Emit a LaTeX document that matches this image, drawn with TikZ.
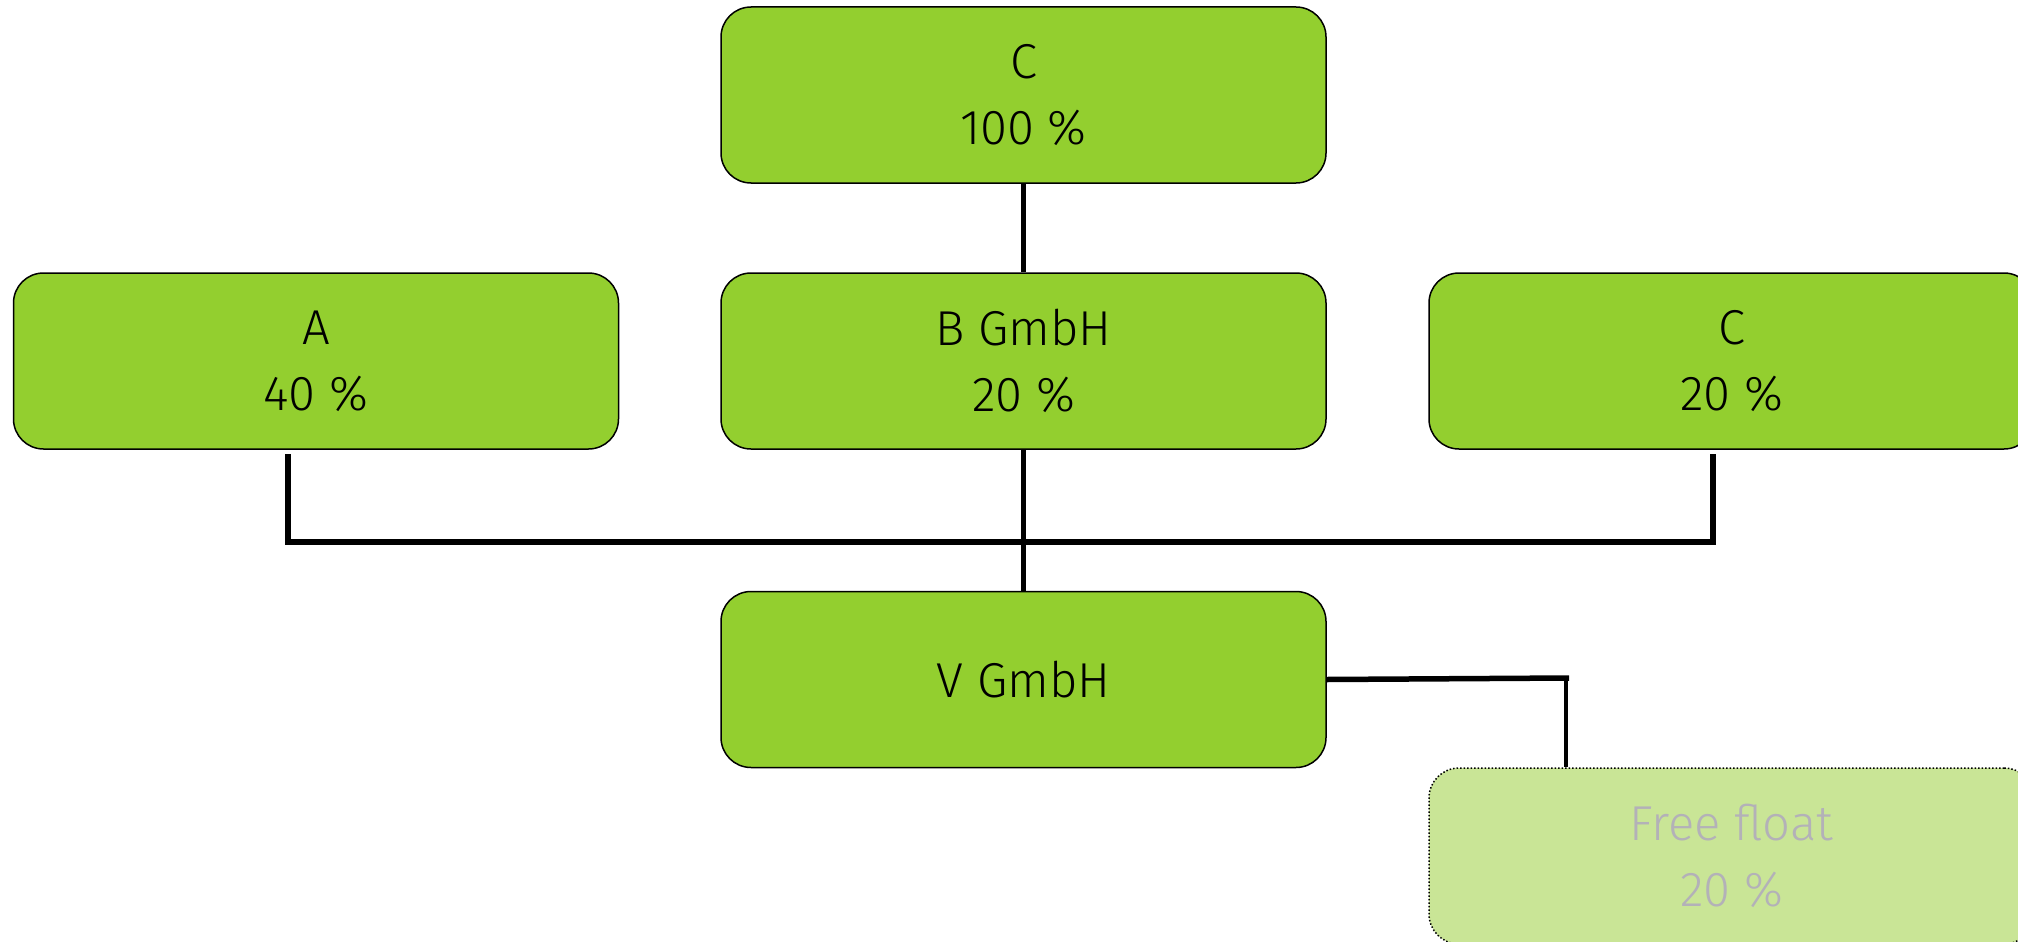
\documentclass[tikz,border=0pt]{standalone}
\usepackage{fontspec}
\setmainfont{Fira Sans Light}
\definecolor{boxgreen}{HTML}{93CF2F}
\definecolor{palegreen}{HTML}{C9E596}
\definecolor{greytext}{HTML}{B3B1B8}
\tikzset{
  orgbox/.style={draw=black, line width=1.5pt, fill=boxgreen, rounded corners=30pt,
    minimum width=605pt, minimum height=176pt, inner sep=0pt, align=center,
    font=\fontsize{49}{66}\selectfont, text=black},
  floatbox/.style={orgbox, fill=palegreen, dotted, text=greytext},
  conn/.style={draw=black, line width=5.5pt}
}
\begin{document}
\begin{tikzpicture}[x=1pt,y=-1pt]
\useasboundingbox (0,0) rectangle (2018,942);
\clip (0,0) rectangle (2018,942);
\node[orgbox] (topC) at (1023.5,95) {C\\100 \%};
\node[orgbox] (A) at (316,361) {A\\40 \%};
\node[orgbox] (B) at (1023.5,361) {B GmbH\\20 \%};
\node[orgbox] (C) at (1731.5,361) {C\\20 \%};
\node[orgbox] (V) at (1023.5,679.5) {V GmbH};
\node[floatbox] (FF) at (1731.5,856) {Free float\\20 \%};
\coordinate (aTop) at (288,454);
\coordinate (aJ) at (288,542);
\coordinate (cTop) at (1713,454);
\coordinate (cJ) at (1713,542);
\coordinate (fJ) at (1566,678);
\draw[conn] (topC.south) -- (B.north);
\draw[conn] (B.south) -- (V.north);
\draw[conn] (aTop) -- (aJ) -- (cJ) -- (cTop);
\draw[conn] (V.east) -- ([xshift=3pt]fJ);
\draw[conn, line width=4.5pt] (fJ) -- (fJ |- FF.north);
\end{tikzpicture}
\end{document}
